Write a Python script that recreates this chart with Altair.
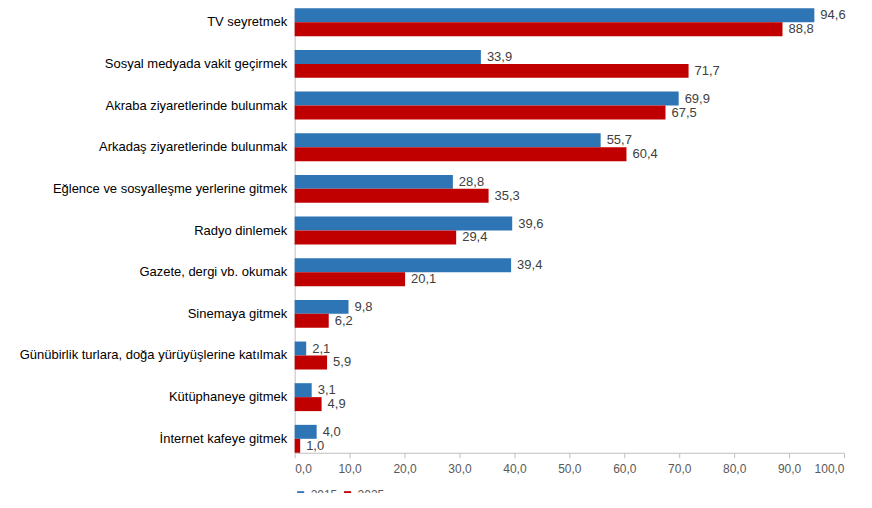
import altair as alt
import pandas as pd

categories = ['TV seyretmek', 'Sosyal medyada vakit geçirmek', 'Akraba ziyaretlerinde bulunmak',
              'Arkadaş ziyaretlerinde bulunmak', 'Eğlence ve sosyalleşme yerlerine gitmek',
              'Radyo dinlemek', 'Gazete, dergi vb. okumak', 'Sinemaya gitmek',
              'Günübirlik turlara, doğa yürüyüşlerine katılmak', 'Kütüphaneye gitmek',
              'İnternet kafeye gitmek']
v2015 = [94.6, 33.9, 69.9, 55.7, 28.8, 39.6, 39.4, 9.8, 2.1, 3.1, 4.0]
v2025 = [88.8, 71.7, 67.5, 60.4, 35.3, 29.4, 20.1, 6.2, 5.9, 4.9, 1.0]

rows = []
for c, a, b in zip(categories, v2015, v2025):
    rows.append({'cat': c, 'yil': '2015', 'v': a})
    rows.append({'cat': c, 'yil': '2025', 'v': b})
df = pd.DataFrame(rows)
df['lbl'] = df['v'].map(lambda v: f'{v:.1f}'.replace('.', ','))

y = alt.Y('cat:N', sort=categories, title=None,
          scale=alt.Scale(paddingInner=0.33, paddingOuter=0.0),
          axis=alt.Axis(ticks=False, labelFontSize=13, labelColor='#000', labelPadding=8,
                        labelLimit=300, domainColor='#bfbfbf', labelFont='Liberation Sans'))
x = alt.X('v:Q', title=None, scale=alt.Scale(domain=[0, 100]),
          axis=alt.Axis(values=list(range(0, 101, 10)), grid=False, labelExpr="replace(format(datum.value, '.1f'), '.', ',')",
                        labelFontSize=12, labelColor='#595959', domainColor='#bfbfbf', tickColor='#bfbfbf',
                        labelFont='Liberation Sans', labelPadding=6))
yoff = alt.YOffset('yil:N', scale=alt.Scale(paddingInner=0.0))

base = alt.Chart(df).encode(y=y, yOffset=yoff)
bars = base.mark_bar().encode(
    x=x,
    color=alt.Color('yil:N', title=None, scale=alt.Scale(domain=['2015', '2025'], range=['#2E75B6', '#C00000']),
                    legend=alt.Legend(orient='bottom', symbolType='square', symbolSize=50, labelFontSize=12,
                                      labelColor='#595959', labelFont='Liberation Sans', offset=14,
                                      columnPadding=4)))
texts = base.mark_text(align='left', dx=6, fontSize=13, color='#404040', font='Liberation Sans').encode(
    x='v:Q', text='lbl:N')

chart = (bars + texts).properties(
    width=550, height=445,
    padding={'left': 287, 'top': 0, 'right': 20, 'bottom': 40},
    autosize=alt.AutoSizeParams(type='none')
).configure_view(stroke=None)

chart.save('out.html', embed_options={'renderer': 'svg', 'actions': False})
